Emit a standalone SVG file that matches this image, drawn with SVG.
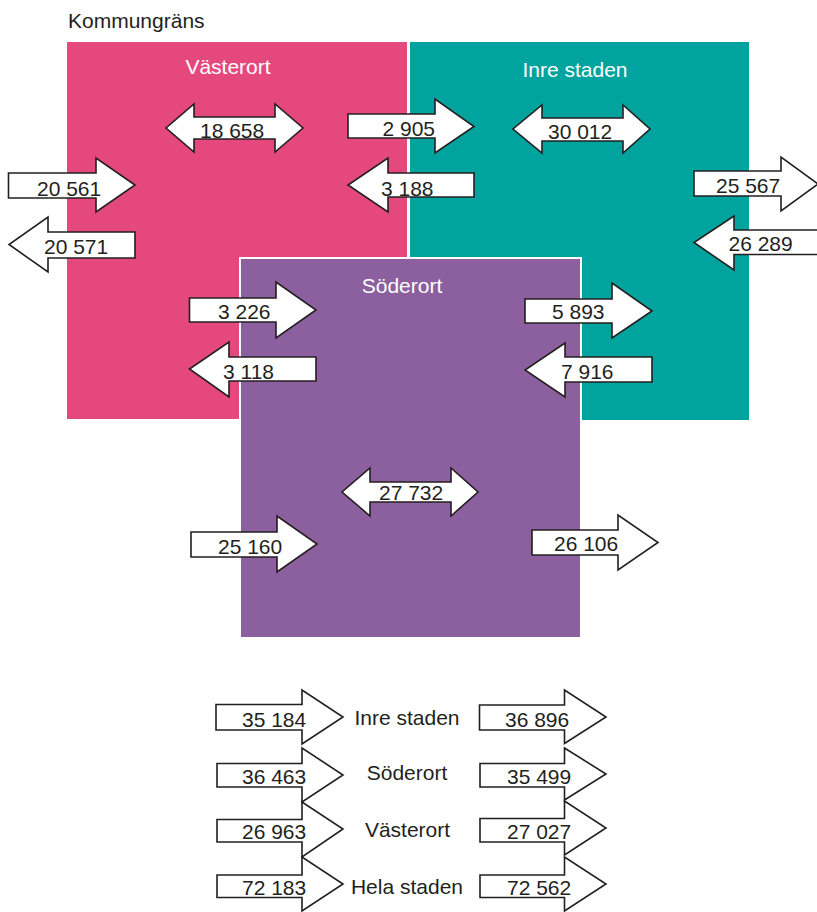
<svg xmlns="http://www.w3.org/2000/svg" width="817" height="912" viewBox="0 0 817 912">
<style>
.t{font-family:"Liberation Sans",Arial,sans-serif;font-size:21px;fill:#231f20}
.w{font-family:"Liberation Sans",Arial,sans-serif;font-size:21px;fill:#ffffff;text-anchor:middle}
.a{fill:#ffffff;stroke:#231f20;stroke-width:1.6;stroke-linejoin:miter}
</style>
<rect width="817" height="912" fill="#ffffff"/>
<text class="t" x="68" y="28">Kommungräns</text>
<g id="vasterort">
<rect x="67" y="42" width="340" height="377" fill="#e5487d"/>
<text class="w" x="228" y="74">Västerort</text>
</g>
<g id="inre-staden">
<rect x="410" y="42" width="339" height="378" fill="#00a39d"/>
<text class="w" x="575" y="77">Inre staden</text>
</g>
<g id="soderort">
<rect x="240" y="258" width="341" height="380" fill="#8c5f9e" stroke="#ffffff" stroke-width="2"/>
<text class="w" x="402" y="293">Söderort</text>
</g>
<g id="connectors">
<g id="a-18658"><path class="a" d="M194 117 H275 V104 L303 128 L275 152 V139 H194 V152 L166 128 L194 104 Z"/><text class="t" x="200" y="138">18 658</text></g>
<g id="a-20561"><path class="a" d="M8.5 173 H96 V158 L135 185 L96 212 V198 H8.5 Z"/><text class="t" x="37" y="196">20 561</text></g>
<g id="a-20571"><path class="a" d="M135 232 H48 V217 L9 244.5 L48 272 V258 H135 Z"/><text class="t" x="44" y="253.5">20 571</text></g>
<g id="a-2905"><path class="a" d="M348 114 H435 V99 L474 126.5 L435 153 V138 H348 Z"/><text class="t" x="382.5" y="136">2 905</text></g>
<g id="a-3188"><path class="a" d="M474 173 H388 V158 L348 185 L388 212 V197 H474 Z"/><text class="t" x="381" y="195.5">3 188</text></g>
<g id="a-30012"><path class="a" d="M542 118 H623 V105 L650 129 L623 153 V141 H542 V153 L513 129 L542 105 Z"/><text class="t" x="548" y="139">30 012</text></g>
<g id="a-25567"><path class="a" d="M694 171 H781 V157 L818 184 L781 211 V196 H694 Z"/><text class="t" x="716" y="192.5">25 567</text></g>
<g id="a-26289"><path class="a" d="M830 230 H734 V216 L694 242.5 L734 270 V254.5 H830 Z"/><text class="t" x="728.5" y="251">26 289</text></g>
<g id="a-3226"><path class="a" d="M189.5 298 H276 V282 L316 310 L276 338 V322 H189.5 Z"/><text class="t" x="218" y="319">3 226</text></g>
<g id="a-3118"><path class="a" d="M316 357 H229 V342 L189.5 369 L229 397 V381 H316 Z"/><text class="t" x="223" y="379">3 118</text></g>
<g id="a-5893"><path class="a" d="M525 299 H612 V283 L652 311 L612 338 V323 H525 Z"/><text class="t" x="552" y="319">5 893</text></g>
<g id="a-7916"><path class="a" d="M652 357 H565 V343 L525 370 L565 397 V382 H652 Z"/><text class="t" x="561" y="379">7 916</text></g>
<g id="a-27732"><path class="a" d="M370 482 H451 V468 L478 492 L451 516 V502 H370 V516 L342 492 L370 468 Z"/><text class="t" x="379" y="500">27 732</text></g>
<g id="a-25160"><path class="a" d="M191 532 H277 V516 L317 544 L277 572 V557 H191 Z"/><text class="t" x="218" y="554">25 160</text></g>
<g id="a-26106"><path class="a" d="M532 530 H618 V515 L658 542.5 L618 570 V555 H532 Z"/><text class="t" x="554" y="551">26 106</text></g>
</g>
<g id="legend">
<g id="l-inre">
<path class="a" d="M216 704.5 H302 V690 L343 717 L302 744 V730 H216 Z"/><text class="t" x="242" y="727">35 184</text>
<text class="t" x="407" y="725" text-anchor="middle">Inre staden</text>
<path class="a" d="M479.5 705 H564.5 V690 L606 717 L564.5 743.5 V730 H479.5 Z"/><text class="t" x="505" y="727">36 896</text>
</g>
<g id="l-soder">
<path class="a" d="M217 763.5 H302 V748 L343 775 L302 802 V787 H217 Z"/><text class="t" x="242" y="783.5">36 463</text>
<text class="t" x="407" y="780" text-anchor="middle">Söderort</text>
<path class="a" d="M480 763.5 H564.5 V748 L606 774 L564.5 800 V787 H480 Z"/><text class="t" x="507" y="783.5">35 499</text>
</g>
<g id="l-vaster">
<path class="a" d="M217 819.5 H302 V802 L343 829 L302 857 V842 H217 Z"/><text class="t" x="242" y="838.5">26 963</text>
<text class="t" x="407.5" y="837" text-anchor="middle">Västerort</text>
<path class="a" d="M480 818.5 H564.5 V801 L606 828 L564.5 855 V842 H480 Z"/><text class="t" x="507" y="838.5">27 027</text>
</g>
<g id="l-hela">
<path class="a" d="M217 875 H302 V857 L343 884 L302 911 V897.5 H217 Z"/><text class="t" x="242" y="895">72 183</text>
<text class="t" x="407" y="893.5" text-anchor="middle">Hela staden</text>
<path class="a" d="M480 875 H564.5 V857 L606 884 L564.5 911 V897.5 H480 Z"/><text class="t" x="507" y="895">72 562</text>
</g>
</g>
</svg>
